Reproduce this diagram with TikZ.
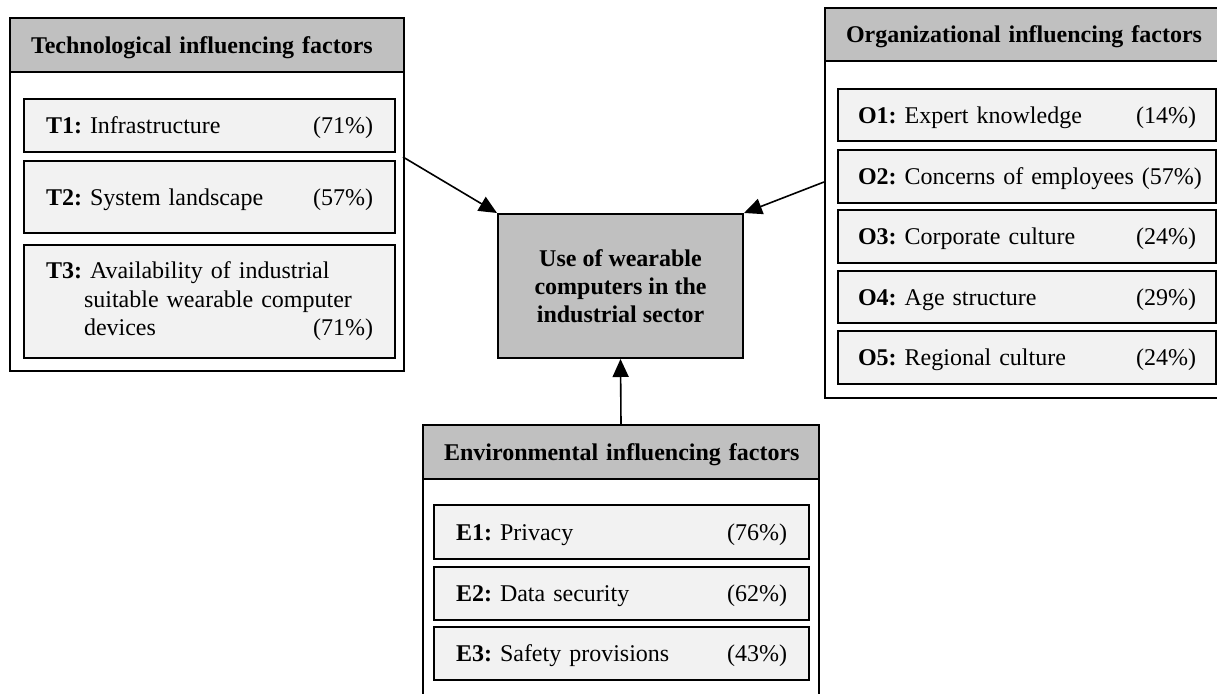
\documentclass[tikz,border=0pt]{standalone}
\usepackage{fontspec}
\setmainfont{Liberation Serif}
\usetikzlibrary{arrows.meta}
\definecolor{headgray}{RGB}{192,192,192}
\definecolor{itemgray}{RGB}{242,242,242}
\frenchspacing
\newcommand{\fac}[3]{\hbox to\linewidth{\textbf{#1:} #2 \hfill(#3\%)}}

\begin{document}
\begin{tikzpicture}[x=1pt,y=-1pt]
\tikzset{frame/.style={draw,line width=2pt,anchor=north west,inner sep=0pt},
  head/.style={draw,line width=2pt,fill=headgray,anchor=north west,inner xsep=21pt,inner ysep=0pt,
    text depth=0pt,align=left,font={\fontsize{24}{28.5}\selectfont\bfseries}},
  item/.style={draw,line width=2pt,fill=itemgray,anchor=north west,inner xsep=22pt,inner ysep=0pt,
    align=left,font={\fontsize{24}{28.5}\selectfont}},
  core/.style={draw,line width=2pt,fill=headgray,align=center,minimum width=245pt,minimum height=144pt,
    text depth=0pt,font={\fontsize{24}{28}\selectfont\bfseries}},
  arr/.style={line width=1.6pt,-{Triangle[length=18pt,width=16pt]}}}
\useasboundingbox (0,0) rectangle (1217,693);

% technological
\path (9,17) node[frame,minimum width=394,minimum height=353] (tframe) {};
\path (9,17) node[head,text width=352,minimum height=54] (thead) {\mbox{Technological influencing factors}};
\path (23,98) node[item,text depth=0pt,text width=327,minimum height=53] (t1) {\fac{T1}{Infrastructure}{71}};
\path (23,160) node[item,text depth=0pt,text width=327,minimum height=72] (t2) {\fac{T2}{System landscape}{57}};
\path (23,244) node[item,text width=327,minimum height=113] (t3) {\textbf{T3:} Availability of industrial\\
  \hspace*{38pt}suitable wearable computer\\\hspace*{38pt}devices\hfill(71\%)};

% organizational
\path (824,7) node[frame,minimum width=398,minimum height=390] (oframe) {};
\path (824,7) node[head,text width=356,minimum height=53] (ohead) {\mbox{Organizational influencing factors}};
\path (837,88) node[item,text depth=0pt,inner xsep=20pt,text width=338,minimum height=52] (o1) {\fac{O1}{Expert knowledge}{14}};
\path (837,149) node[item,text depth=0pt,inner xsep=20pt,text width=338,minimum height=53] (o2) {\fac{O2}{Concerns of employees}{57}};
\path (837,209) node[item,text depth=0pt,inner xsep=20pt,text width=338,minimum height=53] (o3) {\fac{O3}{Corporate culture}{24}};
\path (837,270) node[item,text depth=0pt,inner xsep=20pt,text width=338,minimum height=52] (o4) {\fac{O4}{Age structure}{29}};
\path (837,330) node[item,text depth=0pt,inner xsep=20pt,text width=338,minimum height=53] (o5) {\fac{O5}{Regional culture}{24}};

% environmental
\path (422,424) node[frame,minimum width=396,minimum height=280] (eframe) {};
\path (422,424) node[head,text width=354,minimum height=54] (ehead) {\mbox{Environmental influencing factors}};
\path (433,504) node[item,text depth=0pt,text width=331,minimum height=54] (e1) {\fac{E1}{Privacy}{76}};
\path (433,566) node[item,text depth=0pt,text width=331,minimum height=53] (e2) {\fac{E2}{Data security}{62}};
\path (433,626) node[item,text depth=0pt,text width=331,minimum height=53] (e3) {\fac{E3}{Safety provisions}{43}};

% center
\path (620.5,286) node[core] (use) {Use of wearable\\computers in the\\industrial sector};

\coordinate (tout) at (403,157);
\coordinate (oout) at (824,182);
\draw[arr] (tout) -- (use.north west);
\draw[arr] (oout) -- (use.north east);
\draw[arr] (ehead.north) -- (use.south);
\end{tikzpicture}
\end{document}
